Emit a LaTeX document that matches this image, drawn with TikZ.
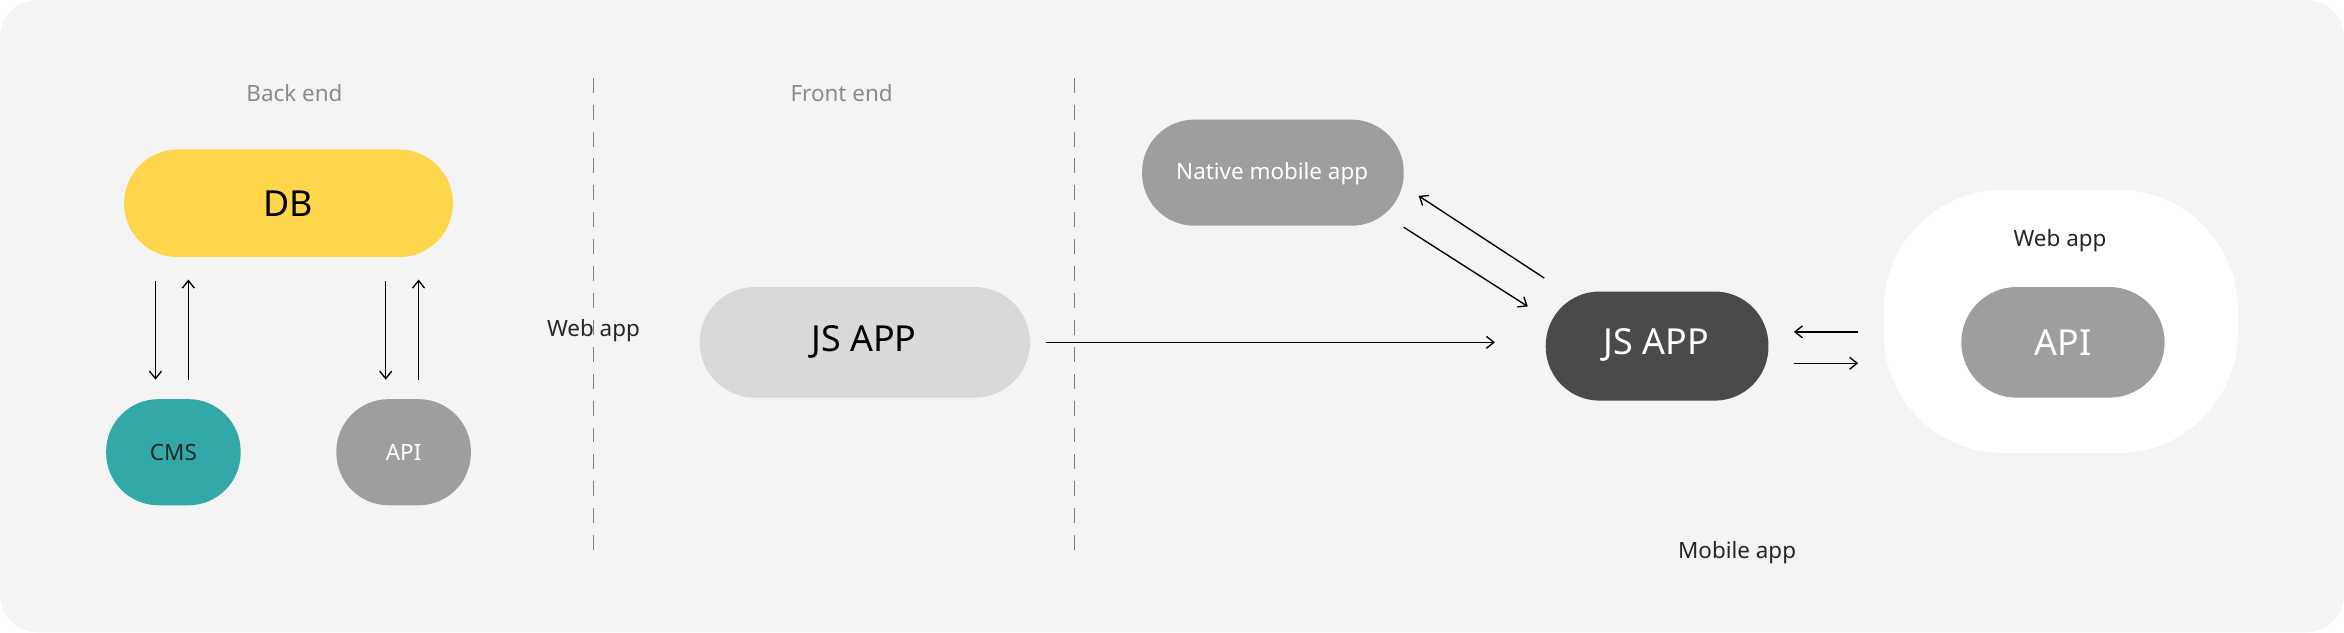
\documentclass[tikz,border=0pt]{standalone}
\usepackage{fontspec}
\setmainfont{Noto Sans}
\usetikzlibrary{arrows.meta}
\definecolor{bg}{HTML}{F4F4F4}
\definecolor{dbY}{HTML}{FED64B}
\definecolor{teal}{HTML}{33A8A8}
\definecolor{gmid}{HTML}{9E9E9E}
\definecolor{glight}{HTML}{D9D9D9}
\definecolor{gdark}{HTML}{4A4A4A}
\definecolor{lbl}{HTML}{8A8A8A}
\tikzset{
  pill/.style={inner sep=0pt, rounded corners=#1},
  arr/.style={-{Straight Barb[length=5pt,width=8pt]}, line width=0.9pt, black},
  sep/.style={gray, line width=0.8pt, dash pattern=on 10pt off 8pt},
  hdr/.style={font=\fontsize{15}{18}\selectfont, text=lbl},
  sm/.style={font=\fontsize{15}{18}\selectfont, text=black!85},
}
\begin{document}
\begin{tikzpicture}[x=1pt,y=-1pt]
\useasboundingbox (0,0) rectangle (1568,423);
\fill[bg, rounded corners=25pt] (0,0) rectangle (1568,423);
\node[hdr] (be) at (197,62) {Back end};
\node[hdr] (fe) at (563,62) {Front end};
\coordinate (d1a) at (397,52); \coordinate (d1b) at (397,370);
\coordinate (d2a) at (719,52); \coordinate (d2b) at (719,370);
\draw[sep] (d1a) -- (d1b);
\draw[sep] (d2a) -- (d2b);
% DB
\fill[dbY, rounded corners=36pt] (83,100) rectangle (303,172);
\node[font=\fontsize{24}{28}\selectfont] (db) at (193,136) {DB};
% CMS
\fill[teal, rounded corners=35pt] (71,267) rectangle (161,338);
\node[font=\fontsize{15}{18}\selectfont, text=black!85] (cms) at (116,303) {CMS};
\fill[gmid, rounded corners=35pt] (225,267) rectangle (315,338);
\node[font=\fontsize{15}{18}\selectfont, text=white] (api1) at (270,303) {API};
\coordinate (a1s) at (104,188); \coordinate (a1e) at (104,254);
\coordinate (a2s) at (126,254); \coordinate (a2e) at (126,187);
\coordinate (a3s) at (258,188); \coordinate (a3e) at (258,254);
\coordinate (a4s) at (280,254); \coordinate (a4e) at (280,187);
\draw[arr] (a1s) -- (a1e); \draw[arr] (a2s) -- (a2e);
\draw[arr] (a3s) -- (a3e); \draw[arr] (a4s) -- (a4e);
\node[sm] (wa1) at (397,221) {Web app};
% JS APP light
\fill[glight, rounded corners=37pt] (468,192) rectangle (689,266);
\node[font=\fontsize{24}{28}\selectfont] (js1) at (578,229) {JS APP};
\coordinate (h1) at (700,229); \coordinate (h2) at (1000,229);
\draw[arr] (h1) -- (h2);
% Native
\fill[gmid, rounded corners=35pt] (764,80) rectangle (939,151);
\node[font=\fontsize{15}{18}\selectfont, text=white] (nat) at (851,116) {Native mobile app};
\coordinate (n1) at (1033,186); \coordinate (n2) at (949,131);
\coordinate (n3) at (939,152); \coordinate (n4) at (1022,205);
\draw[arr] (n1) -- (n2); \draw[arr] (n3) -- (n4);
% JS APP dark
\fill[gdark, rounded corners=36pt] (1034,195) rectangle (1183,268);
\node[font=\fontsize{24}{28}\selectfont, text=white] (js2) at (1108,231) {JS APP};
\coordinate (r1) at (1243,222); \coordinate (r2) at (1200,222);
\coordinate (r3) at (1200,243); \coordinate (r4) at (1243,243);
\draw[arr] (r1) -- (r2); \draw[arr] (r3) -- (r4);
% Web app blob
\fill[white, rounded corners=80pt] (1260,127) rectangle (1497,303);
\node[sm] (wa2) at (1378,161) {Web app};
\fill[gmid, rounded corners=37pt] (1312,192) rectangle (1448,266);
\node[font=\fontsize{24}{28}\selectfont, text=white] (api2) at (1380,229) {API};
\node[sm] (ma) at (1162,370) {Mobile app};
\end{tikzpicture}
\end{document}
